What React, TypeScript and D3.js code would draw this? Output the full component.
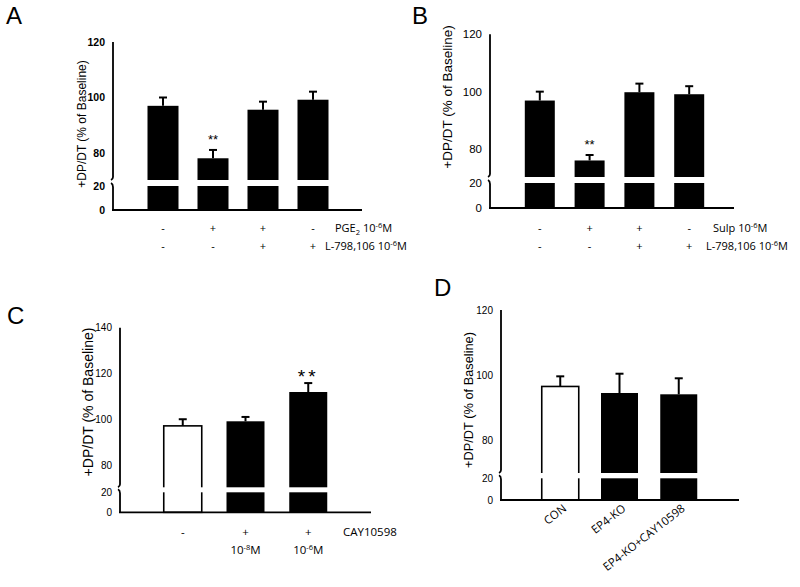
import React from 'react';
import * as d3 from 'd3';

// Panel A: PGE2 / L-798,106
const aMeans = [97.0, 78.1, 95.6, 99.2];
const aErrors = [3.0, 3.0, 2.9, 2.9];
const aRow1 = ['-', '+', '+', '-'];
const aRow2 = ['-', '-', '+', '+'];

// Panel B: Sulp / L-798,106
const bMeans = [96.9, 76.0, 99.8, 99.1];
const bErrors = [3.1, 1.9, 3.0, 2.8];
const bRow1 = ['-', '+', '+', '-'];
const bRow2 = ['-', '-', '+', '+'];

// Panel C: CAY10598 doses
const cMeans = [97.1, 99.1, 111.9];
const cErrors = [2.9, 1.9, 3.9];
const cRow1 = ['-', '+', '+'];
const cRow2 = ['', '10', '10'];
const cRow2Exp = ['', '-8', '-6'];

// Panel D: knockouts
const dCategories = ['CON', 'EP4-KO', 'EP4-KO+CAY10598'];
const dMeans = [96.6, 94.6, 94.2];
const dErrors = [3.1, 5.9, 4.9];

const upperTicksA = [80, 100, 120];
const upperTicksC = [80, 100, 120, 140];
const lowerTicks = [0, 20];

const yLabel = '+DP/DT (% of Baseline)';

interface PanelProps {
  means: number[];
  errors: number[];
  fills: string[];
  axisX: number;
  axisEnd: number;
  rangeEnd: number;
  yTop: number;
  yLow: number;
  y20: number;
  y0: number;
  upperTicks: number[];
  gap: number;
  barWidth: number;
  boldTicks?: boolean;
  tickSize: number;
  labelSize: number;
  labelX: number;
  labelY: number;
  stars?: { index: number; size: number; dy: number; spacing: number };
  children?: (x: (i: number) => number) => React.ReactNode;
}

function Panel(p: PanelProps) {
  const idx = p.means.map((_, i) => String(i));
  const x = d3.scalePoint<string>().domain(idx).range([p.axisX, p.rangeEnd]).padding(1);
  const lo = p.upperTicks[0];
  const hi = p.upperTicks[p.upperTicks.length - 1];
  const yU = d3.scaleLinear().domain([lo, hi]).range([p.yLow, p.yTop]);
  const yL = d3.scaleLinear().domain([0, 20]).range([p.y0, p.y20]);
  const breakTop = p.y20 - p.gap;
  const cx = (i: number) => x(String(i)) as number;
  const tickFont = { fontFamily: 'Liberation Sans, Arial, sans-serif', fontSize: p.tickSize, fontWeight: p.boldTicks ? 700 : 400 };
  return (
    <g>
      {p.means.map((m, i) => {
        const top = yU(m);
        const w = p.barWidth;
        return (
          <g key={i}>
            <rect x={cx(i) - w / 2} y={top} width={w} height={p.y0 - top}
              fill={p.fills[i]} stroke="#000" strokeWidth={p.fills[i] === '#fff' ? 1.6 : 0} />
            <rect x={cx(i) - w / 2 - 2} y={breakTop} width={w + 4} height={p.gap} fill="#fff" />
            <line x1={cx(i)} x2={cx(i)} y1={top} y2={yU(m + p.errors[i])} stroke="#000" strokeWidth={2} />
            <line x1={cx(i) - 4} x2={cx(i) + 4} y1={yU(m + p.errors[i])} y2={yU(m + p.errors[i])} stroke="#000" strokeWidth={2} />
          </g>
        );
      })}
      {p.stars && (
        <text x={cx(p.stars.index)} y={yU(p.means[p.stars.index] + p.errors[p.stars.index]) - p.stars.dy}
          textAnchor="middle" fontFamily="Liberation Sans, Arial, sans-serif" fontSize={p.stars.size}
          letterSpacing={p.stars.spacing}>**</text>
      )}
      {/* y axis with break */}
      <path d={`M${p.axisX},${p.yTop}V${breakTop - 3}q0,2 -2,3`} fill="none" stroke="#000" strokeWidth={1.8} />
      <path d={`M${p.axisX - 2},${p.y20 - 3}q2,1 2,4V${p.y0}`} fill="none" stroke="#000" strokeWidth={1.8} />
      <line x1={p.axisX - 1} x2={p.axisEnd} y1={p.y0} y2={p.y0} stroke="#000" strokeWidth={1.8} />
      {p.upperTicks.map(t => (
        <text key={'u' + t} x={p.axisX - 8} y={yU(t)} dy="0.35em" textAnchor="end" style={tickFont}>{t}</text>
      ))}
      {lowerTicks.map(t => (
        <text key={'l' + t} x={p.axisX - 8} y={yL(t)} dy="0.35em" textAnchor="end" style={tickFont}>{t}</text>
      ))}
      <text transform={`translate(${p.labelX},${p.labelY}) rotate(-90)`} textAnchor="middle"
        fontFamily="Liberation Sans, Arial, sans-serif" fontSize={p.labelSize}>{yLabel}</text>
      {p.children && p.children(cx)}
    </g>
  );
}

const calibri = 'Open Sans, Liberation Sans, sans-serif';

function PanelLetter({ x, y, t }: { x: number; y: number; t: string }) {
  return <text x={x} y={y} fontFamily="Liberation Sans, Arial, sans-serif" fontSize={24}>{t}</text>;
}

export default function App() {
  const black = '#000';
  const white = '#fff';
  return (
    <svg width={800} height={587} style={{ position: 'absolute', left: 0, top: 0, background: '#fff' }}>
      <rect width={800} height={587} fill="#fff" />
      <PanelLetter x={6} y={24} t="A" />
      <PanelLetter x={412} y={24} t="B" />
      <PanelLetter x={7} y={324} t="C" />
      <PanelLetter x={434} y={296} t="D" />

      <Panel means={aMeans} errors={aErrors} fills={aMeans.map(() => black)}
        axisX={113} axisEnd={362} rangeEnd={363} yTop={42} yLow={153} y20={186} y0={210}
        upperTicks={upperTicksA} gap={6} barWidth={31} boldTicks tickSize={10.5}
        labelSize={12} labelX={86} labelY={124}
        stars={{ index: 1, size: 13, dy: 6, spacing: 0 }}>
        {cx => (
          <g fontFamily={calibri} fontSize={11}>
            {aRow1.map((s, i) => <text key={'a1' + i} x={cx(i)} y={232} textAnchor="middle">{s}</text>)}
            {aRow2.map((s, i) => <text key={'a2' + i} x={cx(i)} y={250} textAnchor="middle">{s}</text>)}
            <text x={335} y={232}>PGE<tspan fontSize={7.5} dy={3}>2</tspan><tspan dy={-3}> 10</tspan><tspan fontSize={7.5} dy={-4}>-6</tspan><tspan dy={4}>M</tspan></text>
            <text x={325} y={250}>L-798,106 10<tspan fontSize={7.5} dy={-4}>-6</tspan><tspan dy={4}>M</tspan></text>
          </g>
        )}
      </Panel>

      <Panel means={bMeans} errors={bErrors} fills={bMeans.map(() => black)}
        axisX={490} axisEnd={734} rangeEnd={739} yTop={34.3} yLow={149} y20={183} y0={208}
        upperTicks={upperTicksA} gap={6} barWidth={30} tickSize={11.5}
        labelSize={13.5} labelX={452} labelY={97}
        stars={{ index: 1, size: 13, dy: 6, spacing: 0 }}>
        {cx => (
          <g fontFamily={calibri} fontSize={11}>
            {bRow1.map((s, i) => <text key={'b1' + i} x={cx(i)} y={232} textAnchor="middle">{s}</text>)}
            {bRow2.map((s, i) => <text key={'b2' + i} x={cx(i)} y={250} textAnchor="middle">{s}</text>)}
            <text x={713} y={232}>Sulp 10<tspan fontSize={7.5} dy={-4}>-6</tspan><tspan dy={4}>M</tspan></text>
            <text x={706} y={250}>L-798,106 10<tspan fontSize={7.5} dy={-4}>-6</tspan><tspan dy={4}>M</tspan></text>
          </g>
        )}
      </Panel>

      <Panel means={cMeans} errors={cErrors} fills={[white, black, black]}
        axisX={120} axisEnd={371} rangeEnd={371} yTop={327.7} yLow={465} y20={492.3} y0={512.3}
        upperTicks={upperTicksC} gap={5} barWidth={38} tickSize={10}
        labelSize={14} labelX={93} labelY={402}
        stars={{ index: 2, size: 19, dy: 0, spacing: 3 }}>
        {cx => (
          <g fontFamily={calibri} fontSize={11.5}>
            {cRow1.map((s, i) => <text key={'c1' + i} x={cx(i)} y={536} textAnchor="middle">{s}</text>)}
            {cRow2.map((s, i) => s ? (
              <text key={'c2' + i} x={cx(i)} y={554} textAnchor="middle">{s}<tspan fontSize={7.5} dy={-4}>{cRow2Exp[i]}</tspan><tspan dy={4}>M</tspan></text>
            ) : null)}
            <text x={343} y={536}>CAY10598</text>
          </g>
        )}
      </Panel>

      <Panel means={dMeans} errors={dErrors} fills={[white, black, black]}
        axisX={501} axisEnd={739} rangeEnd={738} yTop={310} yLow={440.7} y20={478.3} y0={500}
        upperTicks={upperTicksA} gap={5.3} barWidth={37} tickSize={10}
        labelSize={12.8} labelX={473} labelY={400}>
        {cx => (
          <g fontFamily={calibri} fontSize={11.5}>
            {dCategories.map((c, i) => (
              <text key={c} transform={`translate(${cx(i) + 7},${510}) rotate(-38)`} textAnchor="end">{c}</text>
            ))}
          </g>
        )}
      </Panel>
    </svg>
  );
}
